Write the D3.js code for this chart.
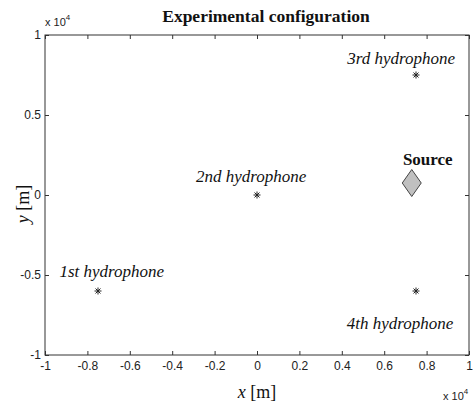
<!DOCTYPE html>
<html><head><meta charset="utf-8">
<script src="https://cdn.jsdelivr.net/npm/d3@7"></script>
<style>body{margin:0;background:#fff}svg{display:block}</style>
</head><body>
<script>
const hydroNames = ["1st hydrophone","2nd hydrophone","3rd hydrophone","4th hydrophone"];
const hydroX = [-7500, 0, 7500, 7500];
const hydroY = [-6000, 0, 7500, -6000];
const labelX = [-6850, -280, 6800, 6750];
const labelY = [-5150, 820, 8200, -8350];
const sourceX = [7300];
const sourceY = [750];
const xTicks = [-1,-0.8,-0.6,-0.4,-0.2,0,0.2,0.4,0.6,0.8,1];
const yTicks = [-1,-0.5,0,0.5,1];

const W=473,H=405;
const m={l:45,r:4,t:35,b:50};
const svg=d3.select("body").append("svg").attr("width",W).attr("height",H);
const x=d3.scaleLinear().domain([-10000,10000]).range([m.l,W-m.r]);
const y=d3.scaleLinear().domain([-10000,10000]).range([H-m.b,m.t]);
const axCol="#333", txtCol="#222";
const tf="Liberation Sans, Arial, sans-serif";

// box
svg.append("rect").attr("x",x(-10000)).attr("y",y(10000))
  .attr("width",x(10000)-x(-10000)).attr("height",y(-10000)-y(10000))
  .attr("fill","none").attr("stroke",axCol).attr("stroke-width",1);

const fmt=d=>d===0?"0":String(d);
const gx=svg.append("g").attr("transform",`translate(0,${y(-10000)})`)
  .call(d3.axisBottom(x).tickValues(xTicks.map(d=>d*1e4)).tickSizeInner(-4).tickSizeOuter(0).tickPadding(6).tickFormat(d=>fmt(d/1e4)));
const gxt=svg.append("g").attr("transform",`translate(0,${y(10000)})`)
  .call(d3.axisTop(x).tickValues(xTicks.map(d=>d*1e4)).tickSizeInner(-4).tickSizeOuter(0).tickFormat(""));
const gy=svg.append("g").attr("transform",`translate(${x(-10000)},0)`)
  .call(d3.axisLeft(y).tickValues(yTicks.map(d=>d*1e4)).tickSizeInner(-4).tickSizeOuter(0).tickPadding(4).tickFormat(d=>fmt(d/1e4)));
const gyr=svg.append("g").attr("transform",`translate(${x(10000)},0)`)
  .call(d3.axisRight(y).tickValues(yTicks.map(d=>d*1e4)).tickSizeInner(-4).tickSizeOuter(0).tickFormat(""));
[gx,gxt,gy,gyr].forEach(g=>{
  g.select(".domain").remove();
  g.selectAll(".tick line").attr("stroke",axCol);
  g.selectAll(".tick text").attr("fill",txtCol).style("font-family",tf).style("font-size","12px");
});

// exponent labels
const e1=svg.append("text").attr("x",45).attr("y",26).attr("fill",txtCol).style("font-family",tf).style("font-size","11px");
e1.append("tspan").text("x 10");
e1.append("tspan").attr("dy",-6).style("font-size","8px").text("4");
const e2=svg.append("text").attr("x",443).attr("y",400).attr("fill",txtCol).style("font-family",tf).style("font-size","11px");
e2.append("tspan").text("x 10");
e2.append("tspan").attr("dy",-6).style("font-size","8px").text("4");

const serif="Liberation Serif, Times New Roman, serif";
// title
svg.append("text").attr("x",266).attr("y",22).attr("text-anchor","middle")
  .style("font-family",serif).style("font-weight","bold").style("font-size","17.5px").attr("fill","#111")
  .text("Experimental configuration");
// x label
const xl=svg.append("text").attr("x",257).attr("y",398).attr("text-anchor","middle")
  .style("font-family",serif).style("font-size","18px").attr("fill","#111");
xl.append("tspan").style("font-style","italic").text("x");
xl.append("tspan").text(" [m]");
// y label
const yl=svg.append("text").attr("transform","translate(29,204) rotate(-90)").attr("text-anchor","middle")
  .style("font-family",serif).style("font-size","18px").attr("fill","#111");
yl.append("tspan").style("font-style","italic").text("y");
yl.append("tspan").text(" [m]");

// hydrophone stars
const star=(cx,cy,r)=>{
  const d=r*0.7071;
  return `M${cx-r},${cy}L${cx+r},${cy}M${cx},${cy-r}L${cx},${cy+r}M${cx-d},${cy-d}L${cx+d},${cy+d}M${cx-d},${cy+d}L${cx+d},${cy-d}`;
};
svg.selectAll("path.star").data(hydroX).enter().append("path").attr("class","star")
  .attr("d",(d,i)=>star(x(d),y(hydroY[i]),3.5)).attr("stroke","#222").attr("stroke-width",1).attr("fill","none");
svg.selectAll("text.hl").data(hydroNames).enter().append("text").attr("class","hl")
  .attr("x",(d,i)=>x(labelX[i])).attr("y",(d,i)=>y(labelY[i])).attr("text-anchor","middle")
  .style("font-family",serif).style("font-style","italic").style("font-size","17px").attr("fill","#111")
  .text(d=>d);

// source diamond
svg.selectAll("path.src").data(sourceX).enter().append("path").attr("class","src")
  .attr("d",(d,i)=>{const cx=x(d),cy=y(sourceY[i]);return `M${cx},${cy-13.5}L${cx+9.5},${cy}L${cx},${cy+13.5}L${cx-9.5},${cy}Z`;})
  .attr("fill","#c0c0c0").attr("stroke","#444").attr("stroke-width",1);
svg.append("text").attr("x",x(sourceX[0])+16).attr("y",y(sourceY[0])-18).attr("text-anchor","middle")
  .style("font-family",serif).style("font-weight","bold").style("font-size","17px").attr("fill","#111")
  .text("Source");
</script>
</body></html>
